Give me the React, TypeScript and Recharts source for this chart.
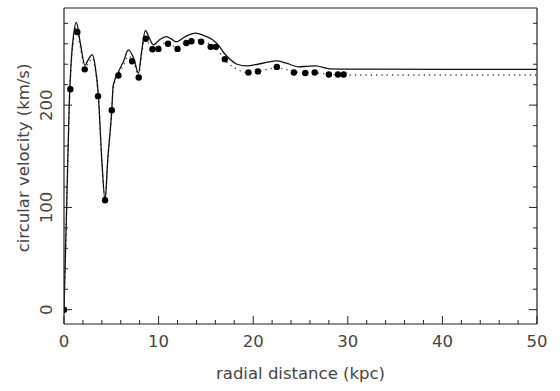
import { ComposedChart, Line, Scatter, XAxis, YAxis } from "recharts";

// observed rotation curve points (kpc, km/s)
const obsRadius = [0, 0.67, 1.41, 2.19, 3.6, 4.34, 5.05, 5.75, 7.2, 7.9, 8.64, 9.35, 9.98, 11.0, 12.0, 12.94, 13.47, 14.5, 15.5, 16.05, 17.0, 19.5, 20.5, 22.5, 24.3, 25.5, 26.5, 28.0, 28.96, 29.56];
const obsVel = [0, 215.6, 271.5, 235, 208.8, 107, 195, 229, 243, 227, 265, 254.6, 255, 260, 255, 260.8, 262.5, 262, 257, 257, 245, 232, 233, 237.4, 232, 231.5, 232, 230, 230, 230];

// solid curve
const fitRadius = [0, 0.28, 0.55, 0.8, 1.0, 1.3, 1.7, 2.22, 2.6, 3.0, 3.3, 3.63, 4.0, 4.34, 4.62, 5.05, 5.2, 5.75, 6.3, 6.8, 7.4, 7.87, 8.2, 8.6, 9.0, 9.45, 10.1, 10.8, 11.3, 11.85, 12.8, 13.9, 14.8, 15.7, 16.3, 17.0, 17.6, 18.3, 19.3, 20.5, 21.5, 22.5, 23.5, 24.8, 25.7, 26.6, 28.1, 30, 40, 50];
const fitVel = [0, 100, 200, 248, 268, 281, 262, 239, 245, 249.5, 238, 210, 146, 107, 146, 195, 219, 232.5, 243, 254, 245, 231, 252, 273, 266, 259, 264, 267, 265, 262, 267, 270.5, 268, 264, 259, 250, 244.5, 240, 238.4, 240, 242, 243.3, 241, 237.5, 238, 238.4, 235.5, 235.3, 235, 235];

// dotted curve
const modelRadius = [0, 0.28, 0.55, 0.8, 1.0, 1.3, 1.7, 2.22, 2.6, 3.0, 3.3, 3.63, 4.0, 4.34, 4.62, 5.05, 5.2, 5.75, 6.3, 6.8, 7.4, 7.87, 8.2, 8.6, 9.0, 9.45, 10.1, 10.8, 11.3, 11.85, 12.8, 13.9, 14.8, 15.7, 16.3, 17.0, 17.6, 18.3, 19.3, 20.5, 21.5, 22.5, 23.5, 24.8, 25.7, 26.6, 28.1, 30, 40, 50];
const modelVel = [0, 98, 196, 244, 263, 276, 258, 236, 241, 246, 235, 208, 145, 107, 145, 194, 217, 230, 239, 248, 241, 229, 249, 268, 260, 254, 258, 261, 259, 257, 261, 264, 262, 258, 253, 244, 239, 235, 232, 233, 235, 236.5, 235, 232, 231.5, 231.5, 230, 229.5, 229.5, 229.5];

const xTicks = [0, 2, 4, 6, 8, 10, 12, 14, 16, 18, 20, 22, 24, 26, 28, 30, 32, 34, 36, 38, 40, 42, 44, 46, 48, 50];
const xLabels = [0, 10, 20, 30, 40, 50];
const yTicks = [0, 20, 40, 60, 80, 100, 120, 140, 160, 180, 200, 220, 240, 260, 280];
const yLabels = [0, 100, 200];

const obsData = obsRadius.map((r, i) => ({ r, v: obsVel[i] }));
const fitData = fitRadius.map((r, i) => ({ r, v: fitVel[i] }));
const modelData = modelRadius.map((r, i) => ({ r, v: modelVel[i] }));

const ink = "#222";
const textColor = "#444";
const font = "'DejaVu Sans ExtraLight', 'DejaVu Sans', sans-serif";
const fontSize = 16.5;

function BottomTick({ x, y, payload }: any) {
  const major = xLabels.includes(payload.value);
  return (
    <g>
      <line x1={x} x2={x} y1={y} y2={y - (major ? 8 : 4)} stroke={ink} strokeWidth={1} />
      {major && (
        <text x={x} y={y + 17} textAnchor="middle" dominantBaseline="central" fill={textColor} fontFamily={font} fontSize={fontSize}>
          {payload.value}
        </text>
      )}
    </g>
  );
}

function TopTick({ x, y, payload }: any) {
  const major = xLabels.includes(payload.value);
  return <line x1={x} x2={x} y1={y} y2={y + (major ? 8 : 4)} stroke={ink} strokeWidth={1} />;
}

function LeftTick({ x, y, payload }: any) {
  const major = yLabels.includes(payload.value);
  const tx = x - 17;
  return (
    <g>
      <line x1={x} x2={x + (major ? 8 : 4)} y1={y} y2={y} stroke={ink} strokeWidth={1} />
      {major && (
        <text x={tx} y={y} transform={`rotate(-90, ${tx}, ${y})`} textAnchor="middle" dominantBaseline="central" fill={textColor} fontFamily={font} fontSize={fontSize}>
          {payload.value}
        </text>
      )}
    </g>
  );
}

function RightTick({ x, y, payload }: any) {
  const major = yLabels.includes(payload.value);
  return <line x1={x} x2={x - (major ? 8 : 4)} y1={y} y2={y} stroke={ink} strokeWidth={1} />;
}

export default function App() {
  return (
    <div style={{ position: "absolute", left: 0, top: 0, background: "#fff" }}>
      <ComposedChart width={560} height={391} margin={{ top: 0, right: 0, bottom: 37, left: 0 }}>
        <XAxis
          xAxisId="b"
          type="number"
          dataKey="r"
          domain={[0, 50]}
          ticks={xTicks}
          interval={0}
          height={30}
          tickSize={0}
          tickMargin={0}
          tickLine={false}
          axisLine={{ stroke: ink, strokeWidth: 1.2 }}
          tick={(p: any) => <BottomTick {...p} />}
          allowDataOverflow
          label={(p: any) => {
            const vb = p.viewBox;
            return (
              <text x={vb.x + vb.width / 2} y={vb.y + 49} textAnchor="middle" dominantBaseline="central" fill={textColor} fontFamily={font} fontSize={fontSize}>
                radial distance (kpc)
              </text>
            );
          }}
        />
        <XAxis
          xAxisId="t"
          orientation="top"
          type="number"
          domain={[0, 50]}
          ticks={xTicks}
          interval={0}
          height={8}
          tickSize={0}
          tickMargin={0}
          tickLine={false}
          axisLine={{ stroke: ink, strokeWidth: 1.2 }}
          tick={(p: any) => <TopTick {...p} />}
          allowDataOverflow
        />
        <YAxis
          yAxisId="l"
          type="number"
          dataKey="v"
          domain={[-14, 295]}
          ticks={yTicks}
          interval={0}
          width={64}
          tickSize={0}
          tickMargin={0}
          tickLine={false}
          axisLine={{ stroke: ink, strokeWidth: 1.2 }}
          tick={(p: any) => <LeftTick {...p} />}
          allowDataOverflow
          label={(p: any) => {
            const vb = p.viewBox;
            const cx = vb.x + 23;
            const cy = vb.y + vb.height / 2 - 8;
            return (
              <text x={cx} y={cy} transform={`rotate(-90, ${cx}, ${cy})`} textAnchor="middle" dominantBaseline="central" fill={textColor} fontFamily={font} fontSize={fontSize}>
                circular velocity (km/s)
              </text>
            );
          }}
        />
        <YAxis
          yAxisId="r"
          orientation="right"
          type="number"
          domain={[-14, 295]}
          ticks={yTicks}
          interval={0}
          width={23}
          tickSize={0}
          tickMargin={0}
          tickLine={false}
          axisLine={{ stroke: ink, strokeWidth: 1.2 }}
          tick={(p: any) => <RightTick {...p} />}
          allowDataOverflow
        />
        <Line
          xAxisId="b"
          yAxisId="l"
          data={modelData}
          dataKey="v"
          type="monotone"
          stroke="#444"
          strokeWidth={1.3}
          strokeDasharray="1.3 4"
          dot={false}
          activeDot={false}
          isAnimationActive={false}
        />
        <Line
          xAxisId="b"
          yAxisId="l"
          data={fitData}
          dataKey="v"
          type="monotone"
          stroke="#111"
          strokeWidth={1.3}
          dot={false}
          activeDot={false}
          isAnimationActive={false}
        />
        <Scatter
          xAxisId="b"
          yAxisId="l"
          data={obsData}
          dataKey="v"
          isAnimationActive={false}
          shape={(p: any) => <circle cx={p.cx} cy={p.cy} r={3.2} fill="#000" />}
        />
      </ComposedChart>
    </div>
  );
}
